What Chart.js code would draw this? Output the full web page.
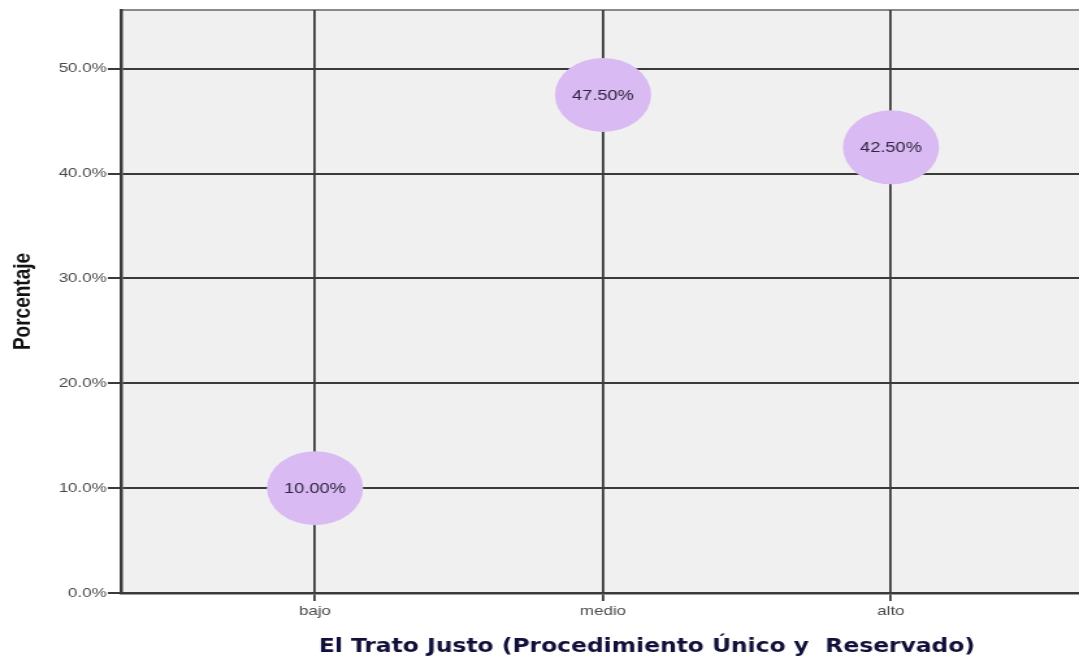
<!DOCTYPE html>
<html lang="es">
<head>
  <meta charset="UTF-8">
  <title>El Trato Justo</title>
  <script src="https://cdn.jsdelivr.net/npm/chart.js"></script>
  <style>
    html, body { margin: 0; padding: 0; background: #fff; }
  </style>
</head>
<body>
  <!-- the source picture is stretched sideways, so the canvas is too -->
  <canvas id="chart" width="830" height="659" style="display:block;width:1079px;height:659px"></canvas>

  <script>
    const categories = ['bajo', 'medio', 'alto'];
    const percentages = [10.0, 47.5, 42.5];
    const yTicks = [0, 10, 20, 30, 40, 50];
    const yLabel = 'Porcentaje';
    const xLabel = 'El Trato Justo (Procedimiento Único y  Reservado)';

    const points = categories.map((c, i) => ({ x: i, y: percentages[i] }));

    // grey plot background and top frame line
    const plotBackground = {
      id: 'plotBackground',
      beforeDraw(chart) {
        const { ctx, chartArea: a } = chart;
        ctx.save();
        ctx.fillStyle = '#f0f0f0';
        ctx.fillRect(a.left, a.top, a.right - a.left, a.bottom - a.top);
        ctx.strokeStyle = '#8a8a8a';
        ctx.lineWidth = 2;
        ctx.beginPath();
        ctx.moveTo(a.left, a.top);
        ctx.lineTo(a.right, a.top);
        ctx.stroke();
        ctx.restore();
      }
    };

    // percentage written inside each bubble
    const bubbleLabels = {
      id: 'bubbleLabels',
      afterDatasetsDraw(chart) {
        const { ctx } = chart;
        const meta = chart.getDatasetMeta(0);
        ctx.save();
        ctx.font = '14px "Liberation Sans", Arial, sans-serif';
        ctx.fillStyle = '#2e2540';
        ctx.textAlign = 'center';
        ctx.textBaseline = 'middle';
        meta.data.forEach((el, i) => {
          ctx.fillText(percentages[i].toFixed(2) + '%', el.x, el.y + 1);
        });
        ctx.restore();
      }
    };

    // caption under the chart, a bit right of centre like the source
    const caption = {
      id: 'caption',
      afterDraw(chart) {
        const { ctx, chartArea: a } = chart;
        ctx.save();
        ctx.translate(a.left + (a.right - a.left) * 0.549, a.bottom + 59);
        ctx.scale(0.9, 1);
        ctx.font = 'bold 20px "DejaVu Sans", Verdana, sans-serif';
        ctx.fillStyle = '#10103a';
        ctx.textAlign = 'center';
        ctx.textBaseline = 'alphabetic';
        ctx.fillText(xLabel, 0, 0);
        ctx.restore();
      }
    };

    new Chart(document.getElementById('chart'), {
      type: 'scatter',
      data: {
        datasets: [{
          data: points,
          pointStyle: 'circle',
          pointRadius: 37,
          pointHoverRadius: 37,
          backgroundColor: 'rgb(217,186,242)',
          borderWidth: 0
        }]
      },
      options: {
        responsive: false,
        devicePixelRatio: 1,
        animation: false,
        events: [],
        layout: { autoPadding: false, padding: { top: 10, right: 0, bottom: 0, left: 0 } },
        plugins: { legend: { display: false }, tooltip: { enabled: false } },
        scales: {
          x: {
            type: 'linear',
            min: -0.674,
            max: 2.653,
            afterBuildTicks: s => { s.ticks = categories.map((c, i) => ({ value: i })); },
            afterFit: s => { s.height = 66; },
            ticks: {
              callback: v => categories[v],
              font: { family: '"Liberation Sans", Arial, sans-serif', size: 13 },
              color: '#4a4a4a',
              padding: 3,
              maxRotation: 0
            },
            grid: { color: '#3a3a3a', lineWidth: 1.8, tickLength: 8 },
            border: { display: true, color: '#3a3a3a', width: 2.5 }
          },
          y: {
            min: 0,
            max: 55.6,
            afterBuildTicks: s => { s.ticks = yTicks.map(v => ({ value: v })); },
            afterFit: s => { s.width = 93; },
            ticks: {
              callback: v => v.toFixed(1) + '%',
              font: { family: '"Liberation Sans", Arial, sans-serif', size: 13 },
              color: '#4a4a4a',
              padding: 1
            },
            grid: { color: '#3a3a3a', lineWidth: 2, tickLength: 10 },
            border: { display: true, color: '#3a3a3a', width: 2.5 },
            title: {
              display: true,
              text: yLabel,
              color: '#111',
              font: { family: '"Liberation Sans", Arial, sans-serif', size: 19, weight: 'bold' },
              padding: { top: 6, bottom: 0 }
            }
          }
        }
      },
      plugins: [plotBackground, bubbleLabels, caption]
    });
  </script>
</body>
</html>
